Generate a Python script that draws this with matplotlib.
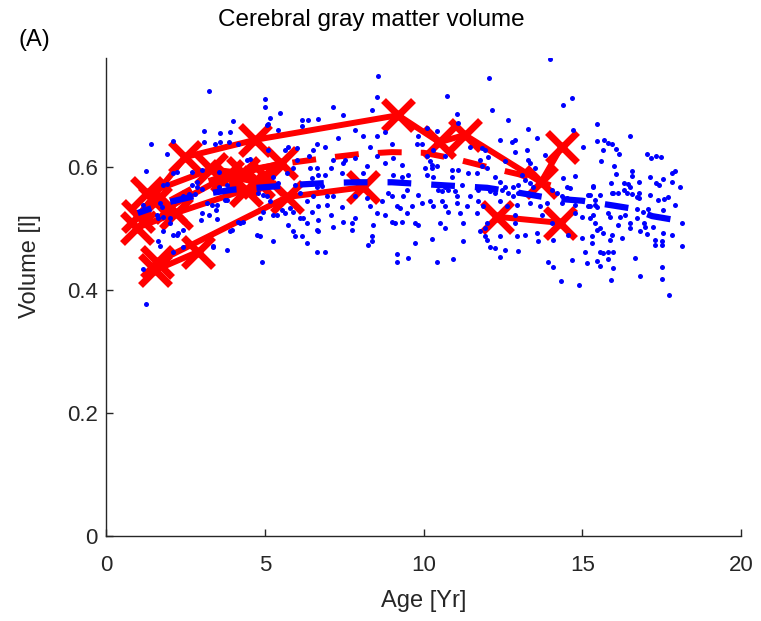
import matplotlib

matplotlib.use("Agg")
import matplotlib.pyplot as plt

plt.rcParams["font.family"] = ["Liberation Sans", "DejaVu Sans"]

# ---- all scans (age [yr], volume [l]) ----
scans_early = [
    (3.25, 0.724), (4.01, 0.675), (3.09, 0.659), (3.59, 0.655), (3.91, 0.656),
    (1.41, 0.637), (2.10, 0.642), (3.09, 0.641), (3.43, 0.637), (3.59, 0.641),
    (3.88, 0.641), (1.91, 0.621), (1.26, 0.594), (2.10, 0.590), (2.23, 0.591),
    (1.80, 0.571), (1.91, 0.572), (2.70, 0.571), (2.86, 0.568), (3.01, 0.564),
    (2.44, 0.553), (1.18, 0.538), (1.70, 0.541), (1.75, 0.535), (3.17, 0.541),
    (3.33, 0.538), (3.51, 0.538), (3.01, 0.525), (3.80, 0.546), (1.60, 0.522),
    (2.02, 0.517), (2.00, 0.508), (2.98, 0.514), (3.51, 0.515), (4.22, 0.509),
    (1.80, 0.495), (2.12, 0.489), (2.28, 0.493), (2.44, 0.498), (3.96, 0.498),
    (1.65, 0.480), (1.70, 0.471), (2.12, 0.462), (2.44, 0.470), (3.36, 0.471),
    (3.80, 0.465), (1.18, 0.434), (1.26, 0.377), (3.46, 0.530), (2.86, 0.576),
    (2.62, 0.556), (2.80, 0.556), (4.17, 0.638), (4.43, 0.611), (4.80, 0.557),
    (4.95, 0.554), (3.75, 0.546), (4.85, 0.517), (4.95, 0.527), (4.17, 0.511),
    (4.75, 0.489), (4.85, 0.487), (2.23, 0.489), (1.65, 0.517), (1.80, 0.519),
    (4.32, 0.511), (3.91, 0.495), (4.90, 0.446), (3.38, 0.470), (4.54, 0.613),
    (2.71, 0.592), (3.02, 0.595), (3.55, 0.592), (3.55, 0.568), (3.81, 0.571),
    (2.13, 0.545), (3.23, 0.522),
]
scans_mid = [
    (5.00, 0.710), (5.00, 0.697), (5.48, 0.688), (5.17, 0.679), (6.16, 0.676),
    (6.37, 0.676), (6.69, 0.678), (5.43, 0.660), (5.64, 0.628), (6.00, 0.630),
    (6.40, 0.617), (6.53, 0.628), (6.43, 0.598), (5.27, 0.584), (5.69, 0.590),
    (5.43, 0.573), (6.69, 0.587), (6.32, 0.544), (6.69, 0.536), (5.27, 0.522),
    (5.53, 0.530), (5.90, 0.526), (6.11, 0.517), (5.74, 0.506), (5.90, 0.495),
    (6.32, 0.508), (6.69, 0.514), (5.27, 0.480), (5.95, 0.487), (6.32, 0.476),
    (5.06, 0.668), (6.16, 0.666), (7.16, 0.697), (7.47, 0.685), (5.11, 0.670),
    (7.84, 0.660), (7.32, 0.647), (6.66, 0.637), (5.74, 0.633), (6.90, 0.632),
    (5.11, 0.628), (6.00, 0.611), (7.16, 0.611), (7.47, 0.606), (7.53, 0.611),
    (7.84, 0.614), (6.63, 0.598), (5.90, 0.598), (7.10, 0.598), (6.90, 0.587),
    (7.42, 0.590), (6.48, 0.582), (5.95, 0.571), (6.63, 0.568), (6.79, 0.569),
    (6.11, 0.557), (5.06, 0.552), (6.53, 0.553), (6.95, 0.552), (7.16, 0.552),
    (7.84, 0.552), (5.17, 0.544), (6.95, 0.538), (7.42, 0.535), (5.80, 0.533),
    (5.38, 0.522), (5.64, 0.525), (6.48, 0.527), (7.10, 0.522), (6.21, 0.517),
    (7.47, 0.511), (7.74, 0.508), (7.84, 0.517), (6.63, 0.498), (6.69, 0.495),
    (7.16, 0.503), (7.74, 0.498), (6.16, 0.487), (6.63, 0.462), (6.90, 0.461),
]
scans_late = [
    (8.58, 0.748), (10.73, 0.715), (8.53, 0.713), (8.37, 0.692), (11.05, 0.686),
    (11.10, 0.672), (8.79, 0.657), (10.10, 0.663), (10.41, 0.659), (8.10, 0.650),
    (8.53, 0.650), (9.84, 0.650), (9.78, 0.638), (9.94, 0.638), (9.00, 0.638),
    (8.31, 0.633), (11.46, 0.633), (10.31, 0.628), (10.10, 0.617), (10.20, 0.609),
    (10.26, 0.603), (10.68, 0.617), (8.53, 0.617), (9.05, 0.614), (8.79, 0.606),
    (9.31, 0.603), (8.21, 0.601), (10.05, 0.598), (10.26, 0.598), (10.41, 0.601),
    (10.89, 0.595), (11.10, 0.595), (11.41, 0.590), (8.10, 0.590), (9.05, 0.587),
    (9.31, 0.584), (9.52, 0.587), (10.10, 0.587), (10.31, 0.584), (10.89, 0.584),
    (11.20, 0.571), (10.68, 0.568), (10.78, 0.563), (9.47, 0.563), (10.47, 0.563),
    (10.57, 0.560), (11.00, 0.560), (11.05, 0.552), (8.89, 0.557), (9.00, 0.552),
    (9.36, 0.552), (8.21, 0.549), (9.84, 0.554), (11.46, 0.552), (8.68, 0.544),
    (9.94, 0.541), (10.20, 0.544), (10.57, 0.544), (10.68, 0.536), (11.05, 0.541),
    (9.16, 0.536), (9.26, 0.533), (8.31, 0.536), (9.63, 0.536), (10.31, 0.536),
    (11.36, 0.536), (8.53, 0.525), (8.79, 0.522), (9.47, 0.525), (10.78, 0.527),
    (11.15, 0.525), (9.00, 0.511), (9.10, 0.508), (9.31, 0.511), (9.73, 0.508),
    (9.84, 0.506), (10.52, 0.508), (11.25, 0.508), (10.68, 0.500), (8.42, 0.506),
    (8.37, 0.487), (8.37, 0.479), (8.26, 0.473), (9.73, 0.476), (10.26, 0.482),
    (11.25, 0.479), (9.16, 0.459), (9.16, 0.446), (9.52, 0.452), (10.41, 0.445),
    (10.92, 0.450),
]
scans_teen = [
    (13.98, 0.775), (12.06, 0.744), (14.67, 0.712), (14.40, 0.701), (12.15, 0.692),
    (12.65, 0.676), (13.30, 0.661), (14.72, 0.660), (13.56, 0.647), (12.41, 0.644),
    (12.78, 0.641), (12.88, 0.644), (11.83, 0.630), (11.94, 0.628), (13.25, 0.628),
    (15.03, 0.633), (13.83, 0.620), (12.04, 0.616), (12.88, 0.625), (13.30, 0.611),
    (13.35, 0.606), (11.78, 0.611), (11.83, 0.602), (11.99, 0.598), (12.57, 0.609),
    (13.51, 0.598), (14.40, 0.582), (14.77, 0.585), (11.70, 0.590), (12.25, 0.584),
    (13.09, 0.587), (13.20, 0.579), (14.51, 0.568), (14.61, 0.565), (12.41, 0.576),
    (12.57, 0.568), (12.83, 0.568), (12.99, 0.571), (13.35, 0.573), (13.46, 0.568),
    (14.04, 0.563), (14.19, 0.557), (14.35, 0.552), (14.51, 0.549), (15.19, 0.554),
    (11.73, 0.563), (11.94, 0.568), (12.09, 0.560), (12.25, 0.557), (12.46, 0.563),
    (12.67, 0.557), (12.83, 0.552), (12.99, 0.557), (13.30, 0.557), (13.88, 0.541),
    (11.73, 0.544), (11.88, 0.536), (12.41, 0.544), (12.62, 0.536), (12.94, 0.538),
    (13.35, 0.541), (13.67, 0.536), (14.35, 0.541), (14.77, 0.538), (15.19, 0.536),
    (11.67, 0.525), (12.88, 0.522), (13.72, 0.522), (14.77, 0.525), (14.98, 0.519),
    (11.99, 0.508), (11.94, 0.500), (12.88, 0.508), (14.04, 0.508), (11.78, 0.495),
    (11.94, 0.487), (11.99, 0.481), (12.41, 0.487), (12.94, 0.487), (13.20, 0.489),
    (13.56, 0.492), (13.62, 0.479), (14.09, 0.481), (14.56, 0.489), (14.98, 0.484),
    (12.25, 0.468), (12.57, 0.465), (12.99, 0.463), (12.09, 0.470), (12.41, 0.454),
    (13.91, 0.445), (14.09, 0.438), (14.67, 0.448), (15.09, 0.462), (15.14, 0.443),
    (14.33, 0.415), (14.90, 0.408),
]
scans_old = [
    (15.47, 0.670), (16.50, 0.650), (15.47, 0.642), (15.70, 0.644), (15.80, 0.639),
    (15.94, 0.637), (15.65, 0.628), (16.06, 0.629), (16.16, 0.621), (17.04, 0.621),
    (17.17, 0.615), (17.32, 0.618), (17.48, 0.616), (15.60, 0.610), (16.00, 0.601),
    (16.57, 0.593), (16.57, 0.585), (16.06, 0.589), (17.13, 0.584), (17.54, 0.580),
    (17.83, 0.590), (17.92, 0.594), (17.83, 0.576), (18.08, 0.567), (15.34, 0.569),
    (15.90, 0.574), (16.30, 0.574), (16.44, 0.572), (16.50, 0.567), (16.80, 0.576),
    (17.32, 0.574), (17.42, 0.571), (17.13, 0.554), (17.70, 0.551), (17.57, 0.548),
    (17.92, 0.538), (15.97, 0.558), (16.13, 0.558), (16.30, 0.563), (16.40, 0.558),
    (16.57, 0.556), (16.72, 0.551), (16.80, 0.558), (16.80, 0.550), (15.24, 0.554),
    (15.40, 0.538), (15.47, 0.535), (15.87, 0.519), (15.80, 0.525), (16.35, 0.522),
    (16.72, 0.532), (16.90, 0.527), (17.07, 0.532), (15.24, 0.517), (15.40, 0.508),
    (15.45, 0.498), (15.56, 0.500), (15.30, 0.487), (15.66, 0.492), (15.93, 0.489),
    (15.87, 0.481), (16.24, 0.484), (16.50, 0.500), (16.50, 0.508), (16.14, 0.506),
    (16.82, 0.495), (16.98, 0.503), (17.03, 0.491), (17.24, 0.503), (17.55, 0.492),
    (17.82, 0.489), (18.13, 0.508), (17.29, 0.481), (17.29, 0.473), (17.50, 0.479),
    (17.50, 0.473), (18.13, 0.471), (15.56, 0.462), (15.66, 0.460), (15.82, 0.462),
    (15.98, 0.462), (15.30, 0.476), (15.82, 0.450), (15.45, 0.447), (15.56, 0.439),
    (16.66, 0.452), (15.98, 0.435), (17.50, 0.437), (15.90, 0.416), (16.82, 0.423),
    (17.50, 0.417), (17.73, 0.392), (15.24, 0.536), (15.35, 0.522), (16.19, 0.519),
    (16.71, 0.517), (16.93, 0.508), (15.40, 0.546), (15.56, 0.554), (15.93, 0.557),
    (15.35, 0.568), (17.40, 0.546), (17.55, 0.530),
]

# ---- population trend (blue dashed) ----
trend_age = [1.0, 2, 3, 4, 5, 6, 7, 8, 9, 10, 11, 12, 13, 14, 15, 16, 16.6, 17.2, 18.0]
trend_vol = [0.525, 0.543, 0.555, 0.563, 0.567, 0.571, 0.574, 0.575, 0.575, 0.572,
             0.569, 0.566, 0.558, 0.549, 0.545, 0.537, 0.532, 0.520, 0.513]

# ---- highlighted subjects (red, one polyline each) ----
subjects = [
    ([1.0, 2.5, 4.7, 9.2, 10.5, 11.3, 13.7, 14.35],
     [0.520, 0.616, 0.644, 0.684, 0.640, 0.652, 0.575, 0.633]),
    ([1.3, 3.3, 4.3, 5.5], [0.557, 0.596, 0.590, 0.606]),
    ([1.6, 5.7, 8.1], [0.445, 0.551, 0.567]),
    ([1.55, 2.9], [0.432, 0.462]),
    ([0.98, 2.2, 4.4, 5.1], [0.501, 0.525, 0.563, 0.580]),
    ([1.55, 2.0, 3.8, 4.8], [0.543, 0.535, 0.585, 0.575]),
    ([12.3, 14.3], [0.519, 0.509]),
]
# subjects' own trend (red dashed)
subj_trend_age = [1.0, 2, 3, 4, 5, 6, 7, 8, 9, 10, 11, 12, 13, 14]
subj_trend_vol = [0.500, 0.545, 0.573, 0.590, 0.600, 0.608, 0.615, 0.621, 0.624,
                  0.623, 0.613, 0.600, 0.588, 0.570]

INK = "#262626"
W, H = 761, 621

fig = plt.figure(figsize=(W / 100, H / 100), dpi=100)
ax = fig.add_axes([106 / W, 85 / H, 635 / W, 478 / H])

for ages, vols in subjects:
    ax.plot(ages, vols, "-", color="red", lw=4.3, marker="x", ms=22, mew=5,
            solid_capstyle="butt", zorder=2)
ax.plot(subj_trend_age, subj_trend_vol, color="red", lw=4.3,
        linestyle=(0, (4.0, 3.2)), zorder=2)

pts = scans_early + scans_mid + scans_late + scans_teen + scans_old
ax.plot([p[0] for p in pts], [p[1] for p in pts], "o", color="blue", ms=3.6,
        mew=0, zorder=3)
ax.plot(trend_age, trend_vol, color="blue", lw=4.5,
        linestyle=(1.5, (3.8, 3.2)), zorder=4)

ax.set_xlim(0, 20)
ax.set_ylim(0, 0.777)
ax.set_xticks([0, 5, 10, 15, 20], ["0", "5", "10", "15", "20"])
ax.set_yticks([0, 0.2, 0.4, 0.6], ["0", "0.2", "0.4", "0.6"])
for side in ("top", "right"):
    ax.spines[side].set_visible(False)
for side in ("left", "bottom"):
    ax.spines[side].set_color(INK)
    ax.spines[side].set_linewidth(1.0)
ax.tick_params(direction="in", length=5, width=1, color=INK, labelcolor=INK,
               labelsize=16)
ax.tick_params(axis="x", pad=14)
ax.tick_params(axis="y", pad=6)

fig.text(424 / W, 1 - 601 / H, "Age [Yr]", fontsize=17, color=INK,
         ha="center", va="center")
fig.text(30 / W, 1 - 266 / H, "Volume [l]", fontsize=17, color=INK,
         ha="center", va="center", rotation=90)
fig.text(371 / W, 1 - 20 / H, "Cerebral gray matter volume", fontsize=17.5,
         ha="center", va="center")
fig.text(18 / W, 1 - 40 / H, "(A)", fontsize=17, va="center", ha="left")

fig.savefig("out.png", dpi=100)
